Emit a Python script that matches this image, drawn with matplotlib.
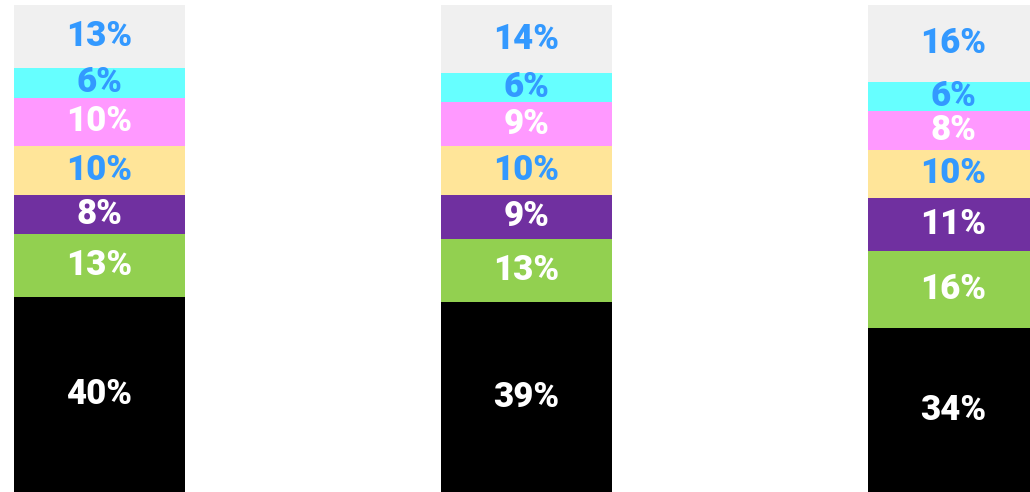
import matplotlib
matplotlib.use("Agg")
import matplotlib.pyplot as plt
import numpy as np

# stacked segments, bottom to top
segments = ["black", "green", "purple", "yellow", "pink", "cyan", "grey"]
bar1 = [40, 13, 8, 10, 10, 6, 13]
bar2 = [39, 13, 9, 10, 9, 6, 14]
bar3 = [34, 16, 11, 10, 8, 6, 16]
bars = [bar1, bar2, bar3]

seg_colors = ["#000000", "#92d050", "#7030a0", "#ffe599", "#ff99ff", "#66ffff", "#f0f0f0"]
label_colors = ["white", "white", "white", "#3399ff", "white", "#3399ff", "#3399ff"]

fig = plt.figure(figsize=(10.30, 4.92), dpi=100)
ax = fig.add_axes([0, 0, 1, 1])

width = 171 / 427
for i, vals in enumerate(bars):
    # each bar is a 100% stack
    heights = np.array(vals, dtype=float) / sum(vals) * 100
    bottom = 0
    for j, h in enumerate(heights):
        ax.bar(i, h, width=width, bottom=bottom, color=seg_colors[j], linewidth=0)
        ax.text(i, bottom + h / 2, f"{vals[j]}%", ha="center", va="center",
                color=label_colors[j], fontsize=25, fontweight="black",
                family="Roboto")
        bottom += h

ax.set_xlim(-99.5 / 427, (1030 - 99.5) / 427)
ax.set_ylim(0, 100 * 492 / 487)
ax.axis("off")

fig.savefig("out.png", dpi=100)
